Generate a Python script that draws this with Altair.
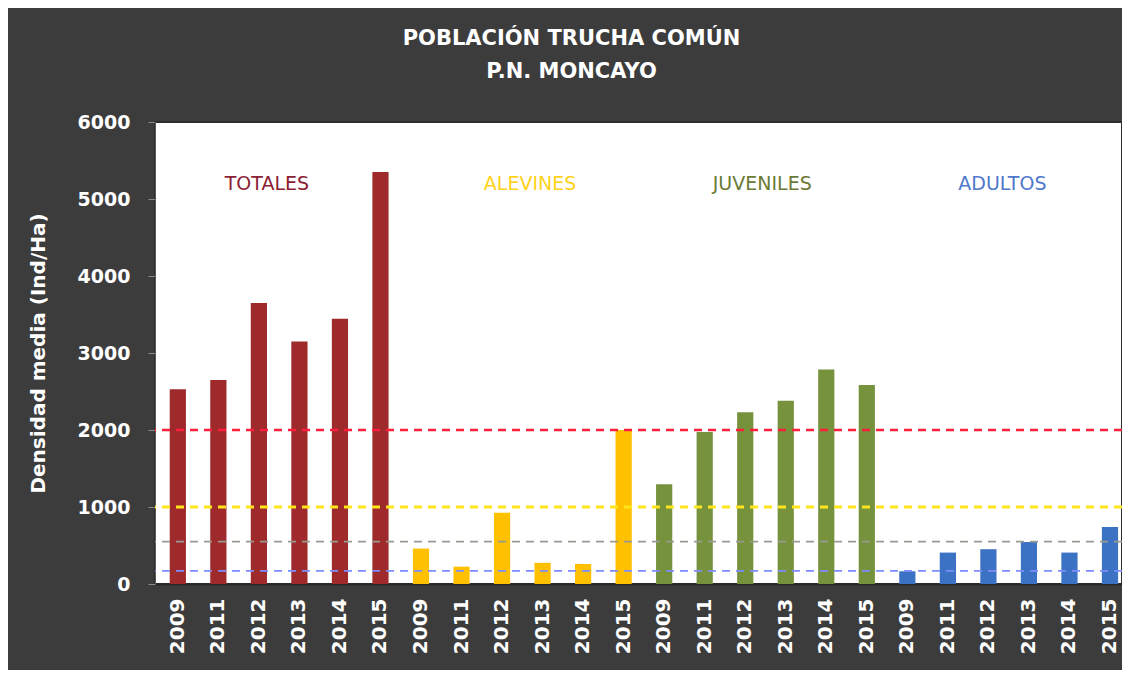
import altair as alt
import pandas as pd

groups = ["TOTALES", "ALEVINES", "JUVENILES", "ADULTOS"]
years = ["2009", "2011", "2012", "2013", "2014", "2015"]
totales = [2530, 2650, 3650, 3150, 3445, 5350]
alevines = [460, 225, 925, 275, 260, 2000]
juveniles = [1295, 1975, 2230, 2380, 2785, 2585]
adultos = [165, 408, 452, 545, 408, 740]
thresholds = [2000, 1000, 550, 170]

bar_colors = ["#9e2a2b", "#ffc000", "#76923c", "#3c72c4"]
label_colors = ["#8b1e34", "#ffd21a", "#6b7a35", "#4f77cc"]
rule_colors = ["#ff1f3d", "#ffe51a", "#9a9a92", "#7d8cff"]
rule_widths = [2.5, 3.2, 1.6, 1.6]
label_dx = [8, 28, 17, 14]

series = [totales, alevines, juveniles, adultos]
rows = []
keys = []
for g, vals in zip(groups, series):
    for y, v in zip(years, vals):
        k = g + " " + y
        keys.append(k)
        rows.append({"key": k, "group": g, "year": y, "value": v})
df = pd.DataFrame(rows)

FONT = "DejaVu Sans"

xscale = alt.Scale(domain=keys, paddingInner=0.6, paddingOuter=0.23, align=0.79)
yscale = alt.Scale(domain=[0, 6000], nice=False)

bars = alt.Chart(df).mark_bar().encode(
    x=alt.X("key:N", scale=xscale, sort=keys, title=None,
            axis=alt.Axis(labelExpr="slice(datum.label, -4)", labelAngle=270,
                          labelColor="white", labelFont=FONT, labelFontWeight="bold",
                          labelFontSize=20, labelPadding=14, ticks=False,
                          domainColor="#262626", domainWidth=2,
                          labelAlign="right", labelBaseline="middle")),
    y=alt.Y("value:Q", scale=yscale, title="Densidad media (Ind/Ha)",
            axis=alt.Axis(values=[0, 1000, 2000, 3000, 4000, 5000, 6000], format="d",
                          grid=False,
                          labelColor="white", labelFont=FONT, labelFontWeight="bold",
                          labelFontSize=19, labelPadding=18, tickColor="#8a8a8a",
                          tickSize=7, domainColor="#5a5a5a", titleColor="white",
                          titleFont=FONT, titleFontWeight="bold", titleFontSize=20,
                          titlePadding=29)),
    color=alt.Color("group:N", scale=alt.Scale(domain=groups, range=bar_colors), legend=None),
)

rule_layers = []
for t, c, w in zip(thresholds, rule_colors, rule_widths):
    rdf = pd.DataFrame({"value": [t]})
    rule_layers.append(
        alt.Chart(rdf).mark_rule(color=c, strokeWidth=w, strokeDash=[8, 6]).encode(
            y=alt.Y("value:Q", scale=yscale)
        )
    )

label_layers = []
for g, c, d in zip(groups, label_colors, label_dx):
    ldf = pd.DataFrame({"group": [g], "key": [g + " " + years[2]], "value": [5200]})
    label_layers.append(
        alt.Chart(ldf).mark_text(
            font=FONT, fontSize=19, dx=d, baseline="middle", align="center", color=c
        ).encode(
            x=alt.X("key:N", scale=xscale, sort=keys),
            y=alt.Y("value:Q", scale=yscale),
            text="group:N",
        )
    )

chart = alt.layer(bars, *rule_layers, *label_layers).properties(
    width=967,
    height=462,
    autosize=alt.AutoSizeParams(type="none"),
    padding={"left": 147, "top": 114, "right": 0, "bottom": 86},
    title=alt.TitleParams(
        text=["POBLACIÓN TRUCHA  COMÚN", "P.N. MONCAYO"],
        color="white", font=FONT, fontWeight="bold", fontSize=21,
        lineHeight=33, anchor="middle", dx=-67, offset=31,
    ),
).configure(
    background="#3c3c3c",
).configure_view(
    fill="white", stroke="#2e2e2e", strokeWidth=2,
)

chart.save("out.html", embed_options={"renderer": "svg", "actions": False})
